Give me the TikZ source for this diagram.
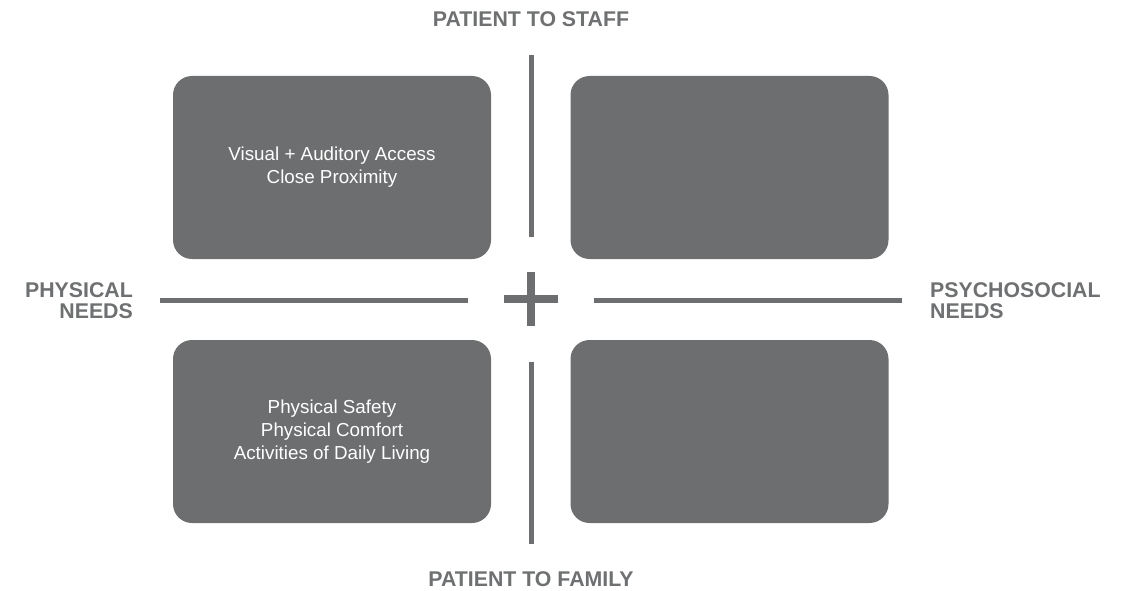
\documentclass[tikz,border=0pt]{standalone}
\usepackage{fontspec}
\setmainfont{Liberation Sans}
\definecolor{boxgray}{RGB}{108,110,111}
\definecolor{labgray}{RGB}{110,112,113}
\begin{document}
\begin{tikzpicture}[x=1pt,y=-1pt,
  quad/.style={draw=none,fill=boxgray,rounded corners=19pt,minimum width=318pt,minimum height=183pt,
    inner sep=0pt,text=white,align=center,font=\fontsize{18.8}{23}\selectfont},
  axlabel/.style={text=labgray,inner sep=0pt,font=\fontsize{21.3}{21}\selectfont\bfseries},
  axis/.style={draw=boxgray,line width=5pt},
  plusarm/.style={draw=boxgray,line width=8pt}]
\useasboundingbox (0,0) rectangle (1137,591);
% quadrant boxes
\node[quad] (tl) at (332,167.5) {Visual + Auditory Access\\Close Proximity};
\node[quad] (tr) at (729.5,167.5) {};
\node[quad] (bl) at (332,431.5) {Physical Safety\\Physical Comfort\\Activities of Daily Living};
\node[quad] (br) at (729.5,431.5) {};
% axis end points
\coordinate (vt1) at (531,55);
\coordinate (vt2) at (531,237);
\coordinate (vb1) at (531,362);
\coordinate (vb2) at (531,544);
\coordinate (hl1) at (160,300);
\coordinate (hl2) at (468,300);
\coordinate (hr1) at (594,300);
\coordinate (hr2) at (902,300);
\coordinate (pc) at (531,299);
\draw[axis] (vt1) -- (vt2);
\draw[axis] (vb1) -- (vb2);
\draw[axis] (hl1) -- (hl2);
\draw[axis] (hr1) -- (hr2);
% plus
\draw[plusarm] ([xshift=-27pt]pc) -- ([xshift=27pt]pc);
\draw[plusarm] ([yshift=27pt]pc) -- ([yshift=-27pt]pc);
% labels
\node[axlabel,anchor=base] (top) at (531,27) {PATIENT TO STAFF};
\node[axlabel,anchor=base] (bot) at (531,586) {PATIENT TO FAMILY};
\node[axlabel,anchor=base east,align=right] (left) at (133,318) {PHYSICAL\\NEEDS};
\node[axlabel,anchor=base west,align=left] (right) at (930,318) {PSYCHOSOCIAL\\NEEDS};
\end{tikzpicture}
\end{document}
